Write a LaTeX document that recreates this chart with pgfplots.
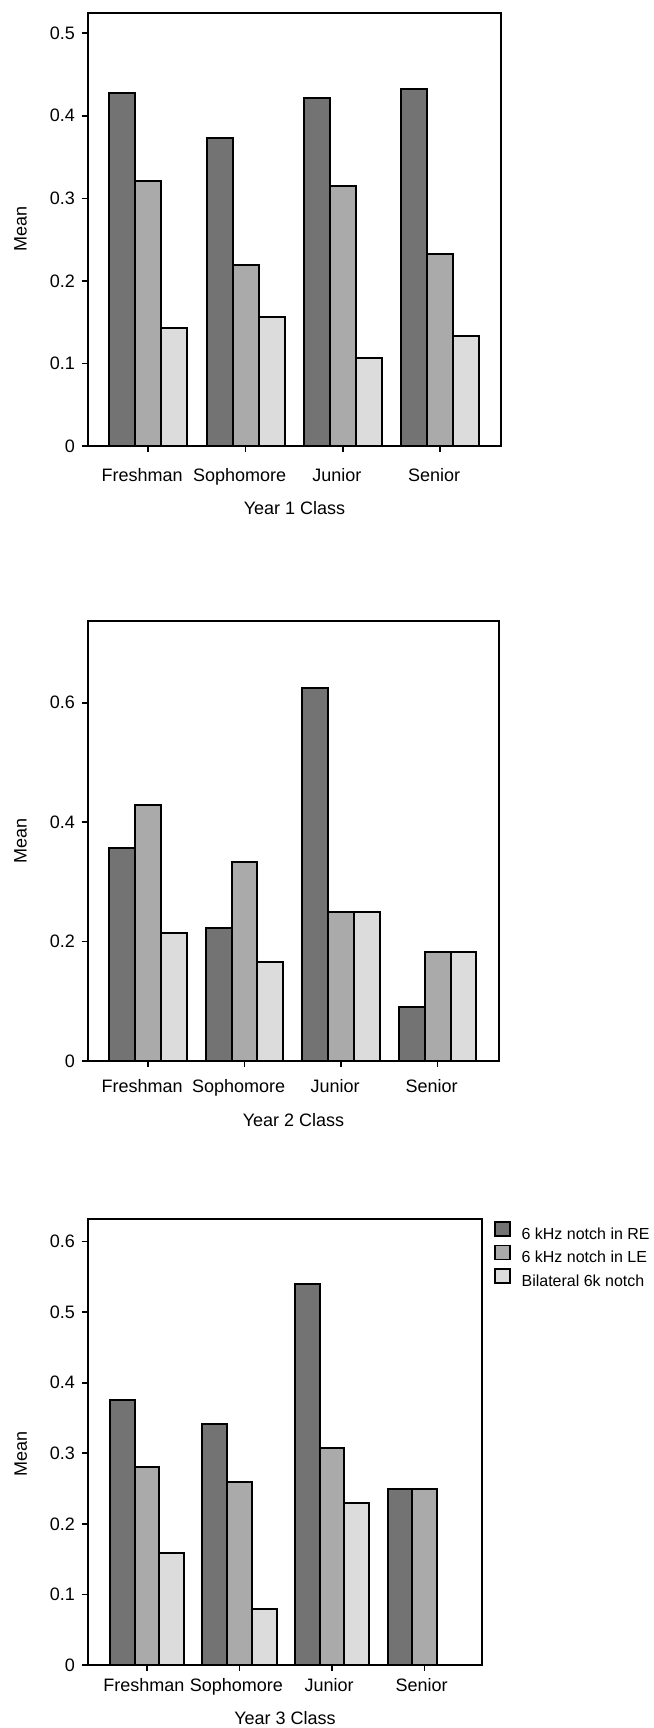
\documentclass[border=0pt]{standalone}
\usepackage{pgfplots}
\pgfplotsset{compat=1.18}
\usepackage{fontspec}
\setmainfont{Liberation Sans}
\definecolor{cdark}{RGB}{115,115,115}
\definecolor{cmid}{RGB}{170,170,170}
\definecolor{clight}{RGB}{220,220,220}
\pgfplotsset{
  myaxis/.style={
    scale only axis, anchor=south west,
    ymin=0, xtick={0,1,2,3},
    xticklabels={Freshman,Sophomore,Junior,Senior},
    tick align=outside, xtick pos=bottom, ytick pos=left,
    major tick length=3pt,
    axis line style={line width=1pt},
    every tick/.style={black, line width=0.8pt},
    /pgf/number format/assume math mode=true,
    yticklabel style={anchor=east},
    ylabel={Mean},
    clip=false,
  },
  bstyle/.style={ybar, bar width=0.267, draw=black, line width=1pt,
    legend image code/.code={\draw[##1, line width=0.8pt] (0pt,-0.6pt) rectangle (7.5pt,6.4pt);}},
}
\begin{document}
\begin{tikzpicture}[font=\fontsize{9}{10.8}\selectfont]
\useasboundingbox (0,0) rectangle (326.5pt,864pt);
% ---------- Year 1 ----------
\begin{axis}[myaxis, at={(44pt,641pt)}, width=206.5pt, height=216.5pt,
  xmin=-0.619, xmax=3.625, ymax=0.5245, ytick={0,0.1,0.2,0.3,0.4,0.5},
  xticklabel style={anchor=base, xshift=-3pt, yshift=-14.6pt},
  xlabel={Year 1 Class},
  xlabel style={at={(axis description cs:0.5,0)}, anchor=base, yshift=-34.5pt},
  ylabel style={at={(axis description cs:-0.1634,0.5)}, anchor=center},
]
\addplot[bstyle, bar shift=-0.267, fill=cdark] coordinates {(0,0.428) (1,0.373) (2,0.421) (3,0.432)};
\addplot[bstyle, bar shift=0, fill=cmid] coordinates {(0,0.321) (1,0.219) (2,0.315) (3,0.233)};
\addplot[bstyle, bar shift=0.267, fill=clight] coordinates {(0,0.143) (1,0.156) (2,0.106) (3,0.133)};
\end{axis}
% ---------- Year 2 ----------
\begin{axis}[myaxis, at={(44pt,333.5pt)}, width=205.5pt, height=220pt,
  xmin=-0.622, xmax=3.636, ymax=0.737, ytick={0,0.2,0.4,0.6},
  xticklabel style={anchor=base, xshift=-3pt, yshift=-12.6pt},
  xlabel={Year 2 Class},
  xlabel style={at={(axis description cs:0.5,0)}, anchor=base, yshift=-32.7pt},
  ylabel style={at={(axis description cs:-0.1642,0.5)}, anchor=center},
]
\addplot[bstyle, bar shift=-0.267, fill=cdark] coordinates {(0,0.357) (1,0.222) (2,0.625) (3,0.091)};
\addplot[bstyle, bar shift=0, fill=cmid] coordinates {(0,0.429) (1,0.333) (2,0.25) (3,0.182)};
\addplot[bstyle, bar shift=0.267, fill=clight] coordinates {(0,0.214) (1,0.166) (2,0.25) (3,0.182)};
\end{axis}
% ---------- Year 3 ----------
\begin{axis}[myaxis, at={(44pt,31.5pt)}, width=197pt, height=223pt,
  xmin=-0.636, xmax=3.62, ymax=0.632, ytick={0,0.1,0.2,0.3,0.4,0.5,0.6},
  xticklabel style={anchor=base, xshift=-1.5pt, yshift=-10.3pt},
  xlabel={Year 3 Class},
  xlabel style={at={(axis description cs:0.5,0)}, anchor=base, yshift=-29.7pt},
  ylabel style={at={(axis description cs:-0.1706,0.473)}, anchor=center},
  legend style={at={(axis description cs:1,1)}, anchor=north west, xshift=6pt, yshift=-1pt,
    draw=none, fill=none, inner sep=0pt, outer sep=0pt, row sep=1.25pt,
    nodes={inner sep=0pt, font=\fontsize{8}{9.6}\selectfont, text height=6pt, text depth=1.5pt},
    /tikz/every odd column/.append style={column sep=5.5pt}},
  legend cell align=left,
]
\addplot[bstyle, bar shift=-0.267, fill=cdark] coordinates {(0,0.375) (1,0.342) (2,0.540) (3,0.25)};
\addlegendentry{6 kHz notch in RE}
\addplot[bstyle, bar shift=0, fill=cmid] coordinates {(0,0.280) (1,0.259) (2,0.307) (3,0.25)};
\addlegendentry{6 kHz notch in LE}
\addplot[bstyle, bar shift=0.267, fill=clight] coordinates {(0,0.159) (1,0.079) (2,0.230)};
\addlegendentry{Bilateral 6k notch}
\end{axis}
\end{tikzpicture}
\end{document}
